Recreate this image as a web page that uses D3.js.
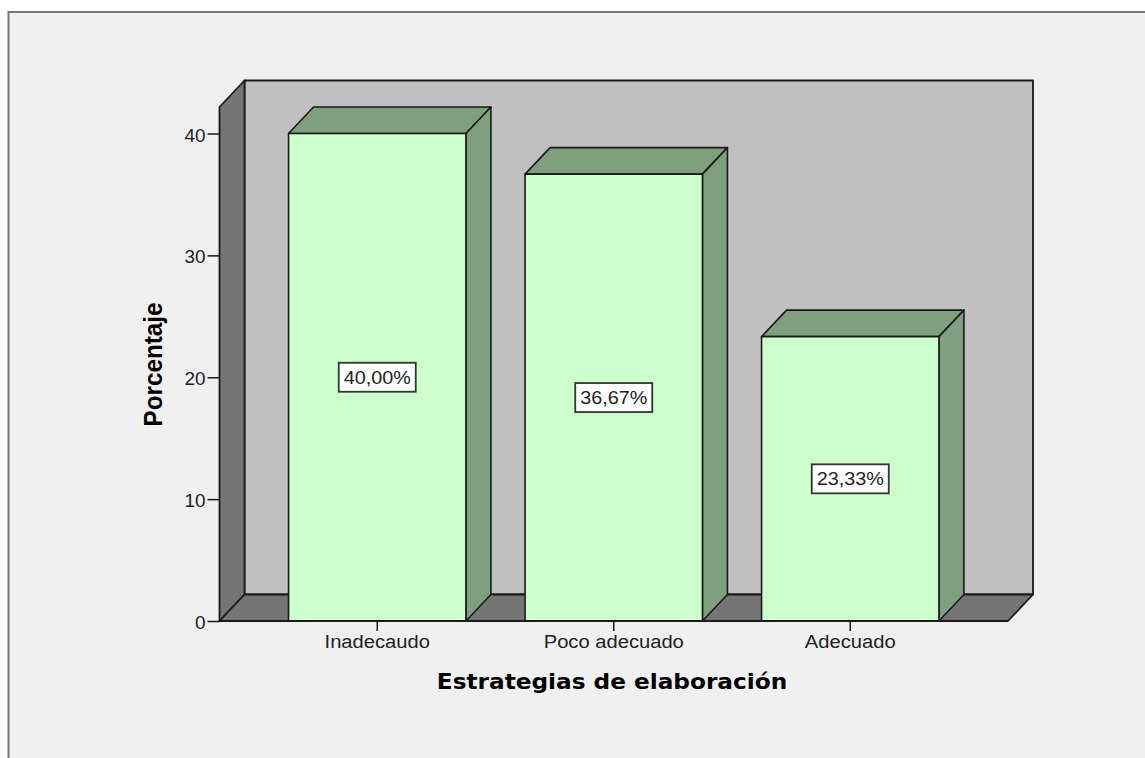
<!DOCTYPE html>
<html>
<head>
<meta charset="utf-8">
<script src="https://cdn.jsdelivr.net/npm/d3@7"></script>
<style>
html, body { margin: 0; padding: 0; background: #fff; overflow: hidden; }
svg { display: block; }
text { font-family: "Liberation Sans", sans-serif; fill: #222; }
</style>
</head>
<body>
<svg width="1145" height="758"></svg>
<script>
// values
const categories = ["Inadecaudo", "Poco adecuado", "Adecuado"];
const percentages = [40.00, 36.67, 23.33];
const barLabels = ["40,00%", "36,67%", "23,33%"];
const yTicks = [0, 10, 20, 30, 40];
const xTitle = "Estrategias de elaboración";
const yTitle = "Porcentaje";

const svg = d3.select("svg");

// plot area, front plane
const left = 219.5, right = 1008, floorY = 621, topY = 107;
const depthX = 25, depthY = -26.5;

const x = d3.scaleBand()
    .domain(categories)
    .range([left, right])
    .paddingInner(0.25)
    .paddingOuter(0.292);

const y = d3.scaleLinear()
    .domain([0, 40])
    .range([floorY, 133.5]);

const line = pts => "M" + pts.map(p => p.join(",")).join("L") + "Z";
const black = "#1a1a1a";

// the text in the picture is wider than the font, so stretch it
function stretch(sel, k) {
    sel.attr("textLength", function() { return this.getComputedTextLength() * k; })
        .attr("lengthAdjust", "spacingAndGlyphs");
}

// outer frame
svg.append("rect").attr("x", 8.5).attr("y", 12)
    .attr("width", 1145).attr("height", 758)
    .attr("fill", "#f0f0f0")
    .attr("stroke", "#777").attr("stroke-width", 2);

const walls = svg.append("g").attr("stroke", black).attr("stroke-width", 1.8).attr("stroke-linejoin", "round");

// back wall
walls.append("rect")
    .attr("x", left + depthX).attr("y", topY + depthY)
    .attr("width", right - left).attr("height", floorY - topY)
    .attr("fill", "#c0c0c0");

// left wall
walls.append("path")
    .attr("d", line([[left, floorY], [left, topY], [left + depthX, topY + depthY], [left + depthX, floorY + depthY]]))
    .attr("fill", "#757575");

// floor
walls.append("path")
    .attr("d", line([[left, floorY], [left + depthX, floorY + depthY], [right + depthX, floorY + depthY], [right, floorY]]))
    .attr("fill", "#757575");

// bars
const bars = svg.append("g").selectAll("g")
    .data(percentages)
    .enter().append("g")
    .attr("stroke", black).attr("stroke-width", 1.6).attr("stroke-linejoin", "round");

bars.append("path")
    .attr("d", (d, i) => {
        const x0 = x(categories[i]), x1 = x0 + x.bandwidth(), y0 = y(d);
        return line([[x0, y0], [x0 + depthX, y0 + depthY], [x1 + depthX, y0 + depthY], [x1, y0]]);
    })
    .attr("fill", "#7f9f7f");

bars.append("path")
    .attr("d", (d, i) => {
        const x1 = x(categories[i]) + x.bandwidth(), y0 = y(d);
        return line([[x1, y0], [x1 + depthX, y0 + depthY], [x1 + depthX, floorY + depthY], [x1, floorY]]);
    })
    .attr("fill", "#7f9f7f");

bars.append("rect")
    .attr("x", (d, i) => x(categories[i]))
    .attr("y", d => y(d))
    .attr("width", x.bandwidth())
    .attr("height", d => floorY - y(d))
    .attr("fill", "#ccffcc");

// value labels
const labels = svg.append("g").selectAll("g")
    .data(percentages)
    .enter().append("g")
    .attr("transform", (d, i) => "translate(" + (x(categories[i]) + x.bandwidth() / 2) + "," + y(d / 2) + ")");

labels.append("rect")
    .attr("x", -38.5).attr("y", -14.5)
    .attr("width", 77).attr("height", 29)
    .attr("fill", "#fff").attr("stroke", "#333").attr("stroke-width", 1.8);

labels.append("text")
    .attr("text-anchor", "middle").attr("dy", "0.36em")
    .style("font-size", "18px")
    .text((d, i) => barLabels[i])
    .call(stretch, 1.1);

// y axis
const yAxis = svg.append("g")
    .attr("transform", "translate(" + left + ",0)")
    .call(d3.axisLeft(y).tickValues(yTicks).tickSize(12).tickPadding(2).tickFormat(d3.format("d")));
yAxis.select(".domain").remove();
yAxis.selectAll("line").attr("stroke", black).attr("stroke-width", 1.5);
yAxis.selectAll("text")
    .attr("dy", "0.42em")
    .style("font-size", "18px").style("font-family", "Liberation Sans").attr("fill", "#222")
    .call(stretch, 1.05);

// x axis
const xAxis = svg.append("g")
    .attr("transform", "translate(0," + floorY + ")")
    .call(d3.axisBottom(x).tickSize(10).tickPadding(4));
xAxis.select(".domain").attr("d", "M" + left + ",0H" + right).attr("stroke", black).attr("stroke-width", 1.8);
xAxis.selectAll("line").attr("stroke", black).attr("stroke-width", 1.5);
xAxis.selectAll("text")
    .style("font-size", "18px").style("font-family", "Liberation Sans").attr("fill", "#222")
    .call(stretch, 1.12);

// axis titles
svg.append("text")
    .attr("x", 612).attr("y", 689)
    .attr("text-anchor", "middle")
    .style("font-family", "DejaVu Sans")
    .style("font-weight", "bold")
    .style("font-size", "21px")
    .style("fill", "#000")
    .text(xTitle)
    .call(stretch, 1.105);

svg.append("text")
    .attr("transform", "translate(162,364.5)rotate(-90)")
    .attr("text-anchor", "middle")
    .style("font-family", "Liberation Sans")
    .style("font-weight", "bold")
    .style("font-size", "25px")
    .style("fill", "#000")
    .text(yTitle)
    .call(stretch, 0.97);
</script>
</body>
</html>
